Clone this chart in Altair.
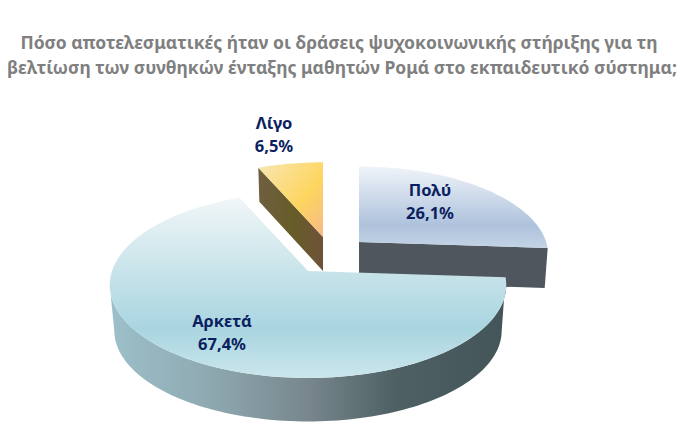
import math
import altair as alt
import pandas as pd

# ---- values ----
categories = ["Πολύ", "Αρκετά", "Λίγο"]
values = [26.1, 67.4, 6.5]
value_labels = ["26,1%", "67,4%", "6,5%"]
title_lines = [
    "Πόσο αποτελεσματικές ήταν οι δράσεις ψυχοκοινωνικής στήριξης για τη",
    "βελτίωση των συνθηκών ένταξης μαθητών Ρομά στο εκπαιδευτικό σύστημα;",
]

# ---- drawing style: 3D perspective of the pie ----
W, H = 670, 428
OFF = 8
A, B, K = 196.0, 90.9, 0.15
START = 90.0
STYLE = {
    "Πολύ": dict(apex=(359 - OFF, 242 - OFF), s=0.955, depth=40, label=(430 - OFF, 191 - OFF)),
    "Αρκετά": dict(apex=(308 - OFF, 271 - OFF), s=1.0, depth=46, label=(222 - OFF, 322 - OFF)),
    "Λίγο": dict(apex=(323 - OFF, 237 - OFF), s=0.945, depth=34, label=(274 - OFF, 124 - OFF)),
}


def pt(theta, apex, s, dy=0.0):
    t = math.radians(theta)
    X, Y = math.cos(t), math.sin(t)
    w = 1 + K * Y
    return [apex[0] + s * A * X / w, apex[1] - s * B * Y / w + dy]


def arc(a0, a1, apex, s, dy=0.0):
    n = max(2, int(abs(a1 - a0) / 1.5))
    return [pt(a0 + (a1 - a0) * i / n, apex, s, dy) for i in range(n + 1)]


def feature(name, ring):
    ring = ring + [ring[0]]
    return {"type": "Feature", "properties": {"name": name},
            "geometry": {"type": "Polygon", "coordinates": [ring]}}


PROJ = dict(type="identity", scale=1, translate=[0, 0])


def shape(name, ring, fill):
    return (
        alt.Chart(alt.Data(values=[feature(name, ring)]))
        .mark_geoshape(fill=fill, strokeWidth=0, stroke="transparent")
        .project(**PROJ)
    )


def grad(stops, x1=0, y1=0, x2=0, y2=1):
    return alt.Gradient(
        gradient="linear", x1=x1, y1=y1, x2=x2, y2=y2,
        stops=[alt.GradientStop(offset=o, color=c) for o, c in stops],
    )


# slice angles, clockwise from the top, straight from the values
angles = {}
cur = START
for c, v in zip(categories, values):
    angles[c] = (cur, cur - v * 3.6)
    cur -= v * 3.6

layers = []

# Λίγο
a0, a1 = angles["Λίγο"]
st = STYLE["Λίγο"]
ap = st["apex"]
tip = pt(a0, ap, st["s"])
layers.append(shape("Λίγο side",
    [list(ap), tip, [tip[0] + 1, tip[1] + st["depth"]], [ap[0], ap[1] + st["depth"]]],
    grad([(0, "#6f5f40"), (0.55, "#675c28"), (1, "#6e5238")], x2=1, y2=0)))
layers.append(shape("Λίγο top", [list(ap)] + arc(a0, a1, ap, st["s"]),
    grad([(0, "#f9e7b4"), (0.6, "#fdd55f"), (1, "#f6b98a")], x2=1, y2=1)))

# Πολύ
a0, a1 = angles["Πολύ"]
st = STYLE["Πολύ"]
ap = st["apex"]
tip = pt(a1, ap, st["s"])
layers.append(shape("Πολύ side",
    [list(ap), tip, [tip[0] - 3, tip[1] + st["depth"]], [ap[0], ap[1] + st["depth"]]],
    "#50565e"))
layers.append(shape("Πολύ top", [list(ap)] + arc(a0, a1, ap, st["s"]),
    grad([(0, "#f0f4f9"), (0.72, "#aec2dc"), (1, "#c4d4e6")])))

# Αρκετά: side wall runs between the silhouette tangents of the two rims
a0, a1 = angles["Αρκετά"]
st = STYLE["Αρκετά"]
ap = st["apex"]
side_top = arc(a0, -171, ap, st["s"])
side_low = arc(-171, -9, ap, st["s"] * 0.977, st["depth"])
layers.append(shape("Αρκετά side", side_top + side_low,
    grad([(0, "#9cc0ca"), (0.25, "#8fa9b1"), (0.5, "#77878d"), (0.72, "#4f6065"), (1, "#445559")],
         x2=1, y2=0)))
layers.append(shape("Αρκετά top", [list(ap)] + arc(a0, a1, ap, st["s"]),
    grad([(0, "#f0f6f7"), (0.73, "#a9d5e0"), (1, "#cbe6ec")])))

# labels
labels = pd.DataFrame({
    "cat": categories,
    "lab": [f"{c}\n{v}" for c, v in zip(categories, value_labels)],
    "lx": [STYLE[c]["label"][0] for c in categories],
    "ly": [STYLE[c]["label"][1] for c in categories],
})
layers.append(
    alt.Chart(labels)
    .mark_text(font="Noto Sans", fontWeight="bold", fontSize=16.5, color="#0b1f60",
               align="center", baseline="middle", lineBreak="\n", lineHeight=23)
    .encode(x=alt.X("lx:Q", scale=None, axis=None), y=alt.Y("ly:Q", scale=None, axis=None),
            text="lab:N")
)

# title
title_df = pd.DataFrame({"t": title_lines, "tx": [339 - OFF, 342 - OFF], "ty": [44 - OFF, 69 - OFF]})
layers.append(
    alt.Chart(title_df)
    .mark_text(font="Noto Sans", fontWeight="bold", fontSize=17.5, color="#7f7f7f",
               align="center", baseline="middle")
    .encode(x=alt.X("tx:Q", scale=None, axis=None), y=alt.Y("ty:Q", scale=None, axis=None),
            text="t:N")
)

chart = (
    alt.layer(*layers)
    .properties(width=W, height=H, padding=0, background="white",
                autosize=alt.AutoSizeParams(type="none"))
    .configure_view(stroke=None)
)
chart.save("out.html", embed_options={"renderer": "svg", "actions": False})
